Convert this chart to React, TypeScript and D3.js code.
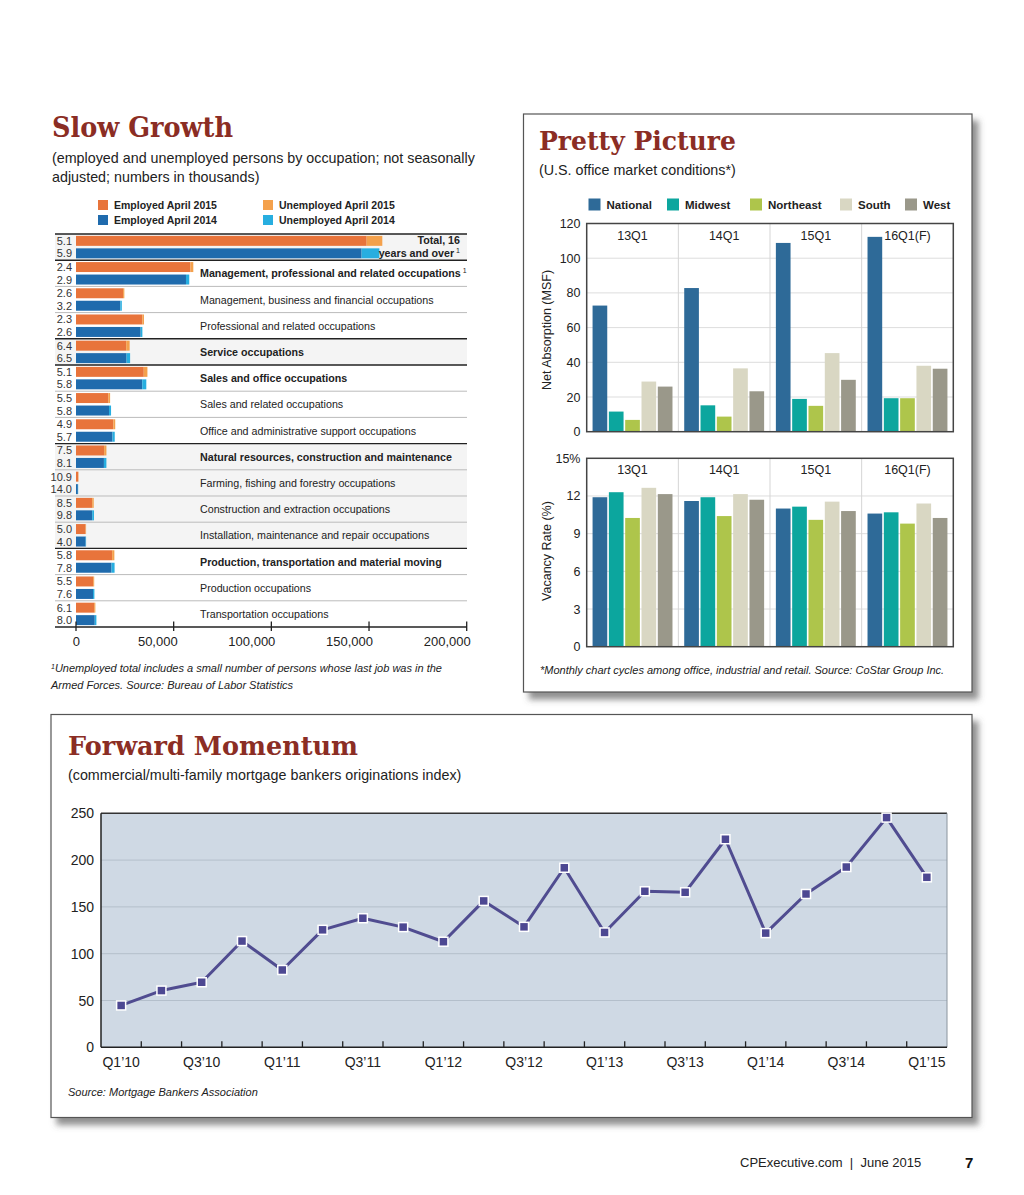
import React from "react";
import * as d3 from "d3";

// ---------------- Slow Growth data ----------------
const occupations = [
  "Total, 16 years and over",
  "Management, professional and related occupations",
  "Management, business and financial occupations",
  "Professional and related occupations",
  "Service occupations",
  "Sales and office occupations",
  "Sales and related occupations",
  "Office and administrative support occupations",
  "Natural resources, construction and maintenance",
  "Farming, fishing and forestry occupations",
  "Construction and extraction occupations",
  "Installation, maintenance and repair occupations",
  "Production, transportation and material moving",
  "Production occupations",
  "Transportation occupations",
];
const isMajor = [true, true, false, false, true, true, false, false, true, false, false, false, true, false, false];
const rate2015 = ["5.1", "2.4", "2.6", "2.3", "6.4", "5.1", "5.5", "4.9", "7.5", "10.9", "8.5", "5.0", "5.8", "5.5", "6.1"];
const rate2014 = ["5.9", "2.9", "3.2", "2.6", "6.5", "5.8", "5.8", "5.7", "8.1", "14.0", "9.8", "4.0", "7.8", "7.6", "8.0"];
const employed2015 = [148800, 58600, 24100, 34000, 25700, 34700, 16500, 19100, 14400, 1150, 8300, 4900, 18500, 8800, 9300];
const unemployed2015 = [8000, 1450, 650, 800, 1760, 1860, 960, 980, 1170, 140, 770, 260, 1140, 510, 610];
const employed2014 = [146200, 56300, 22700, 33100, 25900, 33900, 16900, 18700, 14300, 950, 8300, 4950, 18200, 8700, 9600];
const unemployed2014 = [9100, 1680, 750, 880, 1800, 2090, 1040, 1130, 1260, 150, 900, 210, 1550, 720, 840];
const sgTicks = [0, 50000, 100000, 150000, 200000];

// ---------------- Pretty Picture data ----------------
const quarters = ["13Q1", "14Q1", "15Q1", "16Q1(F)"];
const regions = ["National", "Midwest", "Northeast", "South", "West"];
const regionColors = ["#2E6A98", "#0CA69E", "#AEC54B", "#D9D7C3", "#9A988A"];
const absNational = [72.7, 82.8, 108.8, 112.3];
const absMidwest = [11.6, 15.2, 18.9, 19.3];
const absNortheast = [6.8, 8.7, 14.9, 19.3];
const absSouth = [28.9, 36.5, 45.3, 38.0];
const absWest = [26.0, 23.3, 29.9, 36.3];
const vacNational = [11.9, 11.6, 11.0, 10.6];
const vacMidwest = [12.3, 11.9, 11.15, 10.7];
const vacNortheast = [10.25, 10.4, 10.1, 9.8];
const vacSouth = [12.65, 12.15, 11.55, 11.4];
const vacWest = [12.15, 11.7, 10.8, 10.25];
const absTicks = [0, 20, 40, 60, 80, 100, 120];
const vacTicks = [0, 3, 6, 9, 12, 15];

// ---------------- Forward Momentum data ----------------
const fmQuarters = [
  "Q1’10", "Q2’10", "Q3’10", "Q4’10",
  "Q1’11", "Q2’11", "Q3’11", "Q4’11",
  "Q1’12", "Q2’12", "Q3’12", "Q4’12",
  "Q1’13", "Q2’13", "Q3’13", "Q4’13",
  "Q1’14", "Q2’14", "Q3’14", "Q4’14",
  "Q1’15",
];
const fmValues = [
  44.7, 60.6, 69.5, 113.5,
  82.6, 125.5, 137.9, 128.4,
  112.8, 156.4, 128.7, 191.8,
  122.7, 166.7, 165.6, 222.3,
  122.0, 163.8, 192.6, 245.4,
  181.6,
];
const fmYTicks = [0, 50, 100, 150, 200, 250];

const SANS = "'Liberation Sans', Arial, Helvetica, sans-serif";
const SERIF = "'DejaVu Serif', Georgia, serif";
const TITLE_COLOR = "#8B2D24";

function SlowGrowth() {
  const x = d3.scaleLinear().domain([0, 200000]).range([76, 466.7]);
  const y = d3.scaleBand<number>().domain(d3.range(occupations.length)).range([234, 627]);
  const sub = d3
    .scaleBand<string>()
    .domain(["2015", "2014"])
    .range([0, y.bandwidth()])
    .paddingInner(0.2)
    .paddingOuter(0.15);
  const bw = y.bandwidth();
  const groupOf: number[] = [];
  let g = -1;
  occupations.forEach((_, i) => {
    if (isMajor[i]) g++;
    groupOf.push(g);
  });
  const fmt = d3.format(",");
  return (
    <g>
      <text x={52} y={137} fontFamily={SERIF} fontWeight="bold" fontSize={27} fill={TITLE_COLOR} textLength={181} lengthAdjust="spacingAndGlyphs">
        Slow Growth
      </text>
      <text x={52} y={163} fontFamily={SANS} fontSize={14.3} fill="#222">
        (employed and unemployed persons by occupation; not seasonally
      </text>
      <text x={52} y={182} fontFamily={SANS} fontSize={14.3} fill="#222">
        adjusted; numbers in thousands)
      </text>
      {/* legend */}
      {[
        { label: "Employed April 2015", color: "#E8743B", lx: 98, ly: 200 },
        { label: "Employed April 2014", color: "#1F6BAD", lx: 98, ly: 215 },
        { label: "Unemployed April 2015", color: "#F4A14C", lx: 263, ly: 200 },
        { label: "Unemployed April 2014", color: "#27AEE0", lx: 263, ly: 215 },
      ].map((d) => (
        <g key={d.label}>
          <rect x={d.lx} y={d.ly} width={10} height={10} fill={d.color} />
          <text x={d.lx + 16} y={d.ly + 8.5} fontFamily={SANS} fontWeight="bold" fontSize={10.5} fill="#222">
            {d.label}
          </text>
        </g>
      ))}
      {/* row backgrounds */}
      {occupations.map((_, i) =>
        groupOf[i] % 2 === 0 ? (
          <rect key={"bg" + i} x={55} y={y(i)!} width={412} height={bw} fill="#F4F4F4" />
        ) : null
      )}
      {/* bars */}
      {occupations.map((_, i) => {
        const y15 = y(i)! + sub("2015")!;
        const y14 = y(i)! + sub("2014")!;
        const h = sub.bandwidth();
        return (
          <g key={"bar" + i}>
            <rect x={x(0)} y={y15} width={x(employed2015[i]) - x(0)} height={h} fill="#E8743B" />
            <rect x={x(employed2015[i])} y={y15} width={x(employed2015[i] + unemployed2015[i]) - x(employed2015[i])} height={h} fill="#F4A14C" />
            <rect x={x(0)} y={y14} width={x(employed2014[i]) - x(0)} height={h} fill="#1F6BAD" />
            <rect x={x(employed2014[i])} y={y14} width={x(employed2014[i] + unemployed2014[i]) - x(employed2014[i])} height={h} fill="#27AEE0" />
            <text x={72} y={y15 + h / 2 + 4} textAnchor="end" fontFamily={SANS} fontSize={11} fill="#333">
              {rate2015[i]}
            </text>
            <text x={72} y={y14 + h / 2 + 4} textAnchor="end" fontFamily={SANS} fontSize={11} fill="#333">
              {rate2014[i]}
            </text>
          </g>
        );
      })}
      {/* separators */}
      {occupations.map((_, i) => (
        <line
          key={"sep" + i}
          x1={55}
          x2={467}
          y1={y(i)!}
          y2={y(i)!}
          stroke={i === 0 || isMajor[i] ? "#222" : "#BBBBBB"}
          strokeWidth={i === 0 || isMajor[i] ? 1.4 : 1}
        />
      ))}
      {/* labels */}
      {occupations.map((name, i) => {
        const cy = y(i)! + bw / 2;
        if (i === 0) {
          return (
            <g key={"lab" + i} fontFamily={SANS} fontWeight="bold" fontSize={10.7} fill="#222">
              <text x={460} y={cy - 3} textAnchor="end">Total, 16</text>
              <text x={460} y={cy + 10} textAnchor="end">
                years and over
                <tspan fontSize={7} fontWeight="normal" dx={2} dy={-4}>1</tspan>
              </text>
            </g>
          );
        }
        return (
          <text key={"lab" + i} x={200} y={cy + 4} fontFamily={SANS} fontWeight={isMajor[i] ? "bold" : "normal"} fontSize={10.7} fill="#222">
            {name}
            {i === 1 ? (
              <tspan fontSize={7} fontWeight="normal" dx={2} dy={-4}>1</tspan>
            ) : null}
          </text>
        );
      })}
      {/* axis */}
      <line x1={55} x2={467} y1={627} y2={627} stroke="#222" strokeWidth={1.5} />
      {sgTicks.map((t) => (
        <g key={"t" + t}>
          <line x1={x(t)} x2={x(t)} y1={621.5} y2={631} stroke="#222" strokeWidth={1.3} />
          <text x={x(t) + 4} y={646} textAnchor="end" fontFamily={SANS} fontSize={13} fill="#222">
            {fmt(t)}
          </text>
        </g>
      ))}
      <text x={51} y={672} fontFamily={SANS} fontStyle="italic" fontSize={11} fill="#222">
        <tspan fontSize={7} dy={-3}>1</tspan>
        <tspan dy={3}>Unemployed total includes a small number of persons whose last job was in the</tspan>
      </text>
      <text x={51} y={689} fontFamily={SANS} fontStyle="italic" fontSize={11} fill="#222">
        Armed Forces. Source: Bureau of Labor Statistics
      </text>
    </g>
  );
}

function GroupedBars({
  series,
  yMax,
  ticks,
  top,
  bottom,
  pct,
}: {
  series: number[][];
  yMax: number;
  ticks: number[];
  top: number;
  bottom: number;
  pct: boolean;
}) {
  const left = 586.7;
  const right = 953.3;
  const xg = d3.scaleBand<string>().domain(quarters).range([left, right]);
  const xr = d3
    .scaleBand<string>()
    .domain(regions)
    .range([0, xg.bandwidth()])
    .paddingInner(0.1)
    .paddingOuter(0.36);
  const y = d3.scaleLinear().domain([0, yMax]).range([bottom, top]);
  return (
    <g>
      <rect x={left} y={top} width={right - left} height={bottom - top} fill="#fff" />
      {ticks.slice(1, -1).map((t) => (
        <line key={"g" + t} x1={left} x2={right} y1={y(t)} y2={y(t)} stroke="#DDDDDD" strokeWidth={1} />
      ))}
      {quarters.slice(1).map((q) => (
        <line key={"v" + q} x1={xg(q)!} x2={xg(q)!} y1={top} y2={bottom} stroke="#D5D5D5" strokeWidth={1} />
      ))}
      {quarters.map((q, qi) =>
        regions.map((r, ri) => (
          <rect
            key={q + r}
            x={xg(q)! + xr(r)!}
            y={y(series[ri][qi])}
            width={xr.bandwidth()}
            height={bottom - y(series[ri][qi])}
            fill={regionColors[ri]}
          />
        ))
      )}
      {quarters.map((q) => (
        <text key={"q" + q} x={xg(q)! + xg.bandwidth() / 2} y={top + 16} textAnchor="middle" fontFamily={SANS} fontSize={12.5} fill="#222">
          {q}
        </text>
      ))}
      <rect x={left} y={top} width={right - left} height={bottom - top} fill="none" stroke="#444" strokeWidth={1.5} />
      {ticks.map((t, i) => (
        <text key={"yt" + t} x={580.5} y={y(t) + 4.5} textAnchor="end" fontFamily={SANS} fontSize={12.5} fill="#222">
          {pct && i === ticks.length - 1 ? t + "%" : t}
        </text>
      ))}
    </g>
  );
}

function PrettyPicture() {
  const absSeries = [absNational, absMidwest, absNortheast, absSouth, absWest];
  const vacSeries = [vacNational, vacMidwest, vacNortheast, vacSouth, vacWest];
  const legendX = [588.5, 667, 750, 840, 905];
  return (
    <g>
      <rect x={523.5} y={114} width={448.5} height={578} fill="#fff" stroke="#555" strokeWidth={1.2} filter="url(#shadow)" />
      <text x={539} y={149.5} fontFamily={SERIF} fontWeight="bold" fontSize={26} fill={TITLE_COLOR} textLength={197} lengthAdjust="spacingAndGlyphs">
        Pretty Picture
      </text>
      <text x={539} y={175} fontFamily={SANS} fontSize={14.3} fill="#222">
        (U.S. office market conditions*)
      </text>
      {regions.map((r, i) => (
        <g key={"lg" + r}>
          <rect x={legendX[i]} y={198.5} width={12} height={12} fill={regionColors[i]} />
          <text x={legendX[i] + 18} y={208.5} fontFamily={SANS} fontWeight="bold" fontSize={11.5} fill="#222">
            {r}
          </text>
        </g>
      ))}
      <GroupedBars series={absSeries} yMax={120} ticks={absTicks} top={223.5} bottom={431.7} pct={false} />
      <GroupedBars series={vacSeries} yMax={15} ticks={vacTicks} top={458.3} bottom={646.7} pct={true} />
      <text transform="translate(551,330) rotate(-90)" textAnchor="middle" fontFamily={SANS} fontSize={12.5} fill="#222">
        Net Absorption (MSF)
      </text>
      <text transform="translate(551,551) rotate(-90)" textAnchor="middle" fontFamily={SANS} fontSize={12.5} fill="#222">
        Vacancy Rate (%)
      </text>
      <text x={540} y={674} fontFamily={SANS} fontStyle="italic" fontSize={11} fill="#222">
        *Monthly chart cycles among office, industrial and retail. Source: CoStar Group Inc.
      </text>
    </g>
  );
}

function ForwardMomentum() {
  const left = 101;
  const right = 947;
  const top = 813.3;
  const bottom = 1047.3;
  const x = d3.scaleBand<string>().domain(fmQuarters).range([left, right]);
  const y = d3.scaleLinear().domain([0, 250]).range([bottom, top]);
  const line = d3
    .line<number>()
    .x((_, i) => x(fmQuarters[i])! + x.bandwidth() / 2)
    .y((d) => y(d));
  return (
    <g>
      <rect x={51} y={714.5} width={921} height={403} fill="#fff" stroke="#555" strokeWidth={1.2} filter="url(#shadow)" />
      <text x={68} y={754.5} fontFamily={SERIF} fontWeight="bold" fontSize={26} fill={TITLE_COLOR} textLength={290} lengthAdjust="spacingAndGlyphs">
        Forward Momentum
      </text>
      <text x={68} y={780} fontFamily={SANS} fontSize={14.3} fill="#222">
        (commercial/multi-family mortgage bankers originations index)
      </text>
      <rect x={left} y={top} width={right - left} height={bottom - top} fill="#CFD9E4" />
      {fmYTicks.slice(1, -1).map((t) => (
        <line key={"fg" + t} x1={left} x2={right} y1={y(t)} y2={y(t)} stroke="#B4BFCB" strokeWidth={1} />
      ))}
      <line x1={left} x2={right} y1={top} y2={top} stroke="#333" strokeWidth={1.5} />
      <line x1={right} x2={right} y1={top} y2={bottom} stroke="#8A949E" strokeWidth={1} />
      <line x1={left} x2={left} y1={top} y2={bottom} stroke="#222" strokeWidth={1.5} />
      <line x1={left} x2={right} y1={bottom} y2={bottom} stroke="#222" strokeWidth={1.5} />
      {fmQuarters.slice(1).map((q) => (
        <line key={"xt" + q} x1={x(q)!} x2={x(q)!} y1={bottom} y2={bottom - 6} stroke="#222" strokeWidth={1.3} />
      ))}
      {fmYTicks.map((t) => (
        <text key={"fy" + t} x={94} y={y(t) + 5} textAnchor="end" fontFamily={SANS} fontSize={14} fill="#222">
          {t}
        </text>
      ))}
      {fmQuarters.map((q, i) =>
        i % 2 === 0 ? (
          <text key={"fx" + q} x={x(q)! + x.bandwidth() / 2} y={1067} textAnchor="middle" fontFamily={SANS} fontSize={14} fill="#222">
            {q}
          </text>
        ) : null
      )}
      <path d={line(fmValues) || ""} fill="none" stroke="#504C90" strokeWidth={3} strokeLinejoin="round" />
      {fmValues.map((v, i) => (
        <rect
          key={"m" + i}
          x={x(fmQuarters[i])! + x.bandwidth() / 2 - 4.5}
          y={y(v) - 4.5}
          width={9}
          height={9}
          fill="#4D4892"
          stroke="#fff"
          strokeWidth={1.5}
        />
      ))}
      <text x={68} y={1096} fontFamily={SANS} fontStyle="italic" fontSize={11} fill="#222">
        Source: Mortgage Bankers Association
      </text>
    </g>
  );
}

export default function App() {
  return (
    <div style={{ position: "absolute", left: 0, top: 0 }}>
      <svg width={1024} height={1195} viewBox="0 0 1024 1195" style={{ display: "block", background: "#fff" }}>
        <defs>
          <filter id="shadow" x="-5%" y="-5%" width="115%" height="115%">
            <feDropShadow dx={6} dy={7} stdDeviation={3} floodColor="#555" floodOpacity={0.65} />
          </filter>
        </defs>
        <SlowGrowth />
        <PrettyPicture />
        <ForwardMomentum />
        <text x={740} y={1167} fontFamily={SANS} fontSize={13} fill="#222" style={{ whiteSpace: "pre" }}>
          {"CPExecutive.com  |  June 2015"}
        </text>
        <text x={965} y={1168} fontFamily={SANS} fontWeight="bold" fontSize={15} fill="#111">
          7
        </text>
      </svg>
    </div>
  );
}
